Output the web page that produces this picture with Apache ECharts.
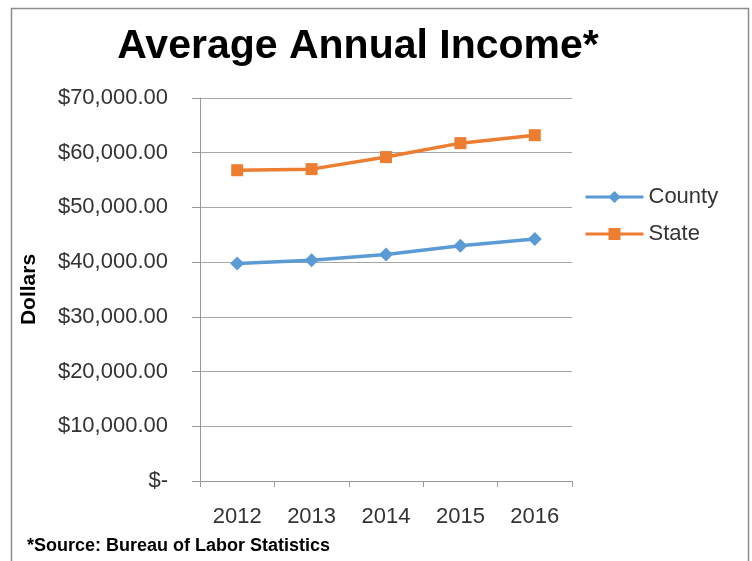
<!DOCTYPE html>
<html>
<head>
<meta charset="utf-8">
<script src="https://cdn.jsdelivr.net/npm/echarts@6/dist/echarts.min.js"></script>
<style>
  html, body { margin: 0; padding: 0; background: #fff; }
  #main { width: 752px; height: 561px; }
</style>
</head>
<body>
<div id="main"></div>
<script>
// 年份
const years = ['2012', '2013', '2014', '2015', '2016'];
// 县 / 州 平均年收入
const county = [39750, 40350, 41400, 43000, 44250];
const state = [56800, 57000, 59200, 61750, 63200];
// y轴刻度文字
const yTickLabels = ['$-', '$10,000.00', '$20,000.00', '$30,000.00', '$40,000.00', '$50,000.00', '$60,000.00', '$70,000.00'];

const font = '"Liberation Sans", Arial, sans-serif';

var myChart = echarts.init(document.getElementById('main'));

const option = {
  backgroundColor: '#fff',
  animation: false,
  textStyle: { fontFamily: font },
  graphic: [
    {
      // 外框
      type: 'rect',
      shape: { x: 11.5, y: 8.5, width: 737, height: 600 },
      style: { fill: 'none', stroke: '#8c8c8c', lineWidth: 1.5 }
    },
    {
      type: 'text',
      x: 358,
      y: 26,
      style: {
        text: 'Average Annual Income*',
        fontFamily: font,
        fontSize: 41,
        fontWeight: 'bold',
        fill: '#000',
        textAlign: 'center'
      }
    },
    {
      type: 'text',
      x: 27,
      y: 537,
      style: {
        text: '*Source: Bureau of Labor Statistics',
        fontFamily: font,
        fontSize: 18,
        fontWeight: 'bold',
        fill: '#000'
      }
    }
  ],
  legend: {
    orient: 'vertical',
    left: 579,
    top: 181,
    itemWidth: 58,
    itemHeight: 15,
    itemGap: 15,
    lineStyle: { width: 3 },
    textStyle: { fontSize: 22, color: '#333', fontFamily: font },
    data: ['County', 'State']
  },
  grid: {
    left: 200,
    right: 180,
    top: 98,
    bottom: 80,
    containLabel: false
  },
  xAxis: {
    type: 'category',
    data: years,
    boundaryGap: true,
    axisLine: { lineStyle: { color: '#999', width: 1 } },
    axisTick: { show: true, length: 6, lineStyle: { color: '#999' } },
    axisLabel: { fontSize: 22, color: '#333', margin: 25 }
  },
  yAxis: {
    type: 'value',
    min: 0,
    max: 70000,
    interval: 10000,
    name: 'Dollars',
    nameLocation: 'middle',
    nameRotate: 90,
    nameGap: 160,
    nameTextStyle: { fontSize: 21, fontWeight: 'bold', color: '#000' },
    axisLine: { show: true, lineStyle: { color: '#999', width: 1 } },
    axisTick: { show: true, length: 8, lineStyle: { color: '#999' } },
    axisLabel: {
      fontSize: 22,
      color: '#333',
      margin: 32,
      formatter: function (v) { return yTickLabels[Math.round(v / 10000)]; }
    },
    splitLine: { lineStyle: { color: '#a6a6a6', width: 1 } }
  },
  series: [
    {
      name: 'County',
      type: 'line',
      data: county,
      symbol: 'diamond',
      symbolSize: 14,
      color: '#5b9bd5',
      lineStyle: { width: 3.5 }
    },
    {
      name: 'State',
      type: 'line',
      data: state,
      symbol: 'rect',
      symbolSize: 12,
      color: '#ed7d31',
      lineStyle: { width: 3.5 }
    }
  ]
};

myChart.setOption(option);
</script>
</body>
</html>
